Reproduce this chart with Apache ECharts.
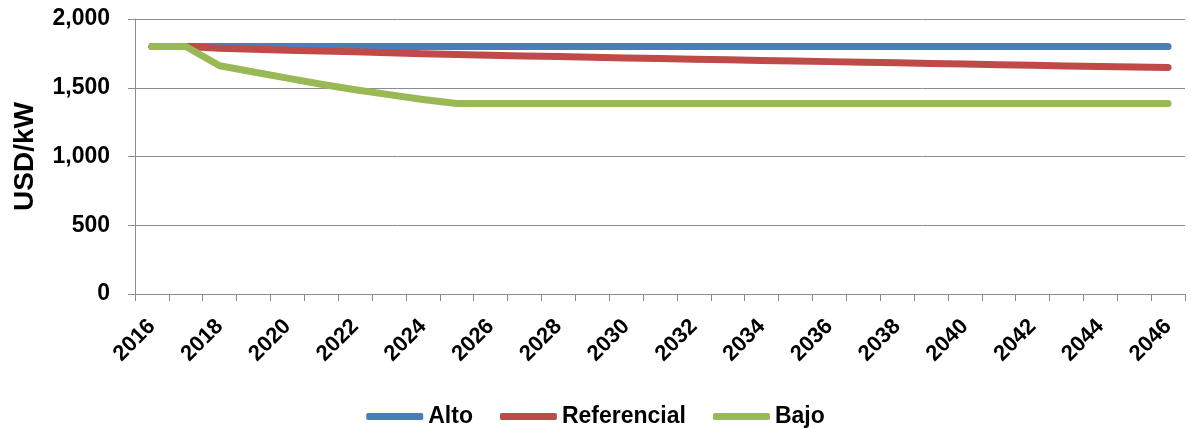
<!DOCTYPE html>
<html>
<head>
<meta charset="utf-8">
<script src="https://cdn.jsdelivr.net/npm/echarts@6/dist/echarts.min.js"></script>
<style>
html,body{margin:0;padding:0;background:#fff;}
#chart{width:1191px;height:429px;}
</style>
</head>
<body>
<div id="chart"></div>
<script>
const years = ['2016','2017','2018','2019','2020','2021','2022','2023','2024','2025','2026','2027','2028','2029','2030','2031','2032','2033','2034','2035','2036','2037','2038','2039','2040','2041','2042','2043','2044','2045','2046'];
const alto = [1800,1800,1800,1800,1800,1800,1800,1800,1800,1800,1800,1800,1800,1800,1800,1800,1800,1800,1800,1800,1800,1800,1800,1800,1800,1800,1800,1800,1800,1800,1800];
const referencial = [1800,1800,1788,1780,1773,1767,1761,1754,1747,1741,1736,1731,1727,1722,1717,1713,1708,1704,1699,1695,1690,1686,1681,1677,1672,1668,1664,1659,1655,1651,1647];
const bajo = [1800,1800,1660,1615,1570,1525,1485,1450,1415,1385,1385,1385,1385,1385,1385,1385,1385,1385,1385,1385,1385,1385,1385,1385,1385,1385,1385,1385,1385,1385,1385];
const seriesNames = ['Alto','Referencial','Bajo'];
const colors = ['#4A7EBB','#BE4B48','#98B954'];
const yTicks = {min:0, max:2000, interval:500};

const FONT = '"Liberation Sans", Arial, sans-serif';
const chart = echarts.init(document.getElementById('chart'), null, {renderer:'canvas'});
const mk = (name, data, i) => ({
  name, type:'line', data, symbol:'none', smooth:false,
  lineStyle:{width:7, color:colors[i], cap:'round', join:'round'},
  itemStyle:{color:colors[i]},
  emphasis:{disabled:true}, animation:false
});
chart.setOption({
  animation:false,
  color: colors,
  grid:{left:135, right:6, top:19, bottom:135, containLabel:false},
  legend:{
    data: seriesNames, top:400, left:'center',
    icon:'roundRect', itemWidth:57, itemHeight:7, itemGap:27,
    textStyle:{fontFamily:FONT, fontWeight:'bold', fontSize:23, color:'#000'}
  },
  xAxis:{
    type:'category', data:years, boundaryGap:true,
    axisLine:{lineStyle:{color:'#8c8c8c', width:1}},
    axisTick:{show:true, interval:0, length:7, lineStyle:{color:'#8c8c8c'}},
    axisLabel:{interval:1, rotate:45, margin:29, fontFamily:FONT, fontWeight:'bold', fontSize:22, color:'#000'},
    splitLine:{show:false}
  },
  yAxis:{
    type:'value', min:yTicks.min, max:yTicks.max, interval:yTicks.interval,
    name:'USD/kW', nameLocation:'middle', nameGap:96, nameRotate:90,
    nameTextStyle:{fontFamily:FONT, fontWeight:'bold', fontSize:28, color:'#000'},
    axisLine:{show:true, lineStyle:{color:'#8c8c8c', width:1}},
    axisTick:{show:true, length:7, lineStyle:{color:'#8c8c8c'}},
    axisLabel:{margin:25, fontFamily:FONT, fontWeight:'bold', fontSize:23, color:'#000',
      formatter: v => v.toLocaleString('en-US')},
    splitLine:{show:true, lineStyle:{color:'#8c8c8c', width:1}}
  },
  series:[mk(seriesNames[0], alto, 0), mk(seriesNames[1], referencial, 1), mk(seriesNames[2], bajo, 2)]
});
</script>
</body>
</html>
